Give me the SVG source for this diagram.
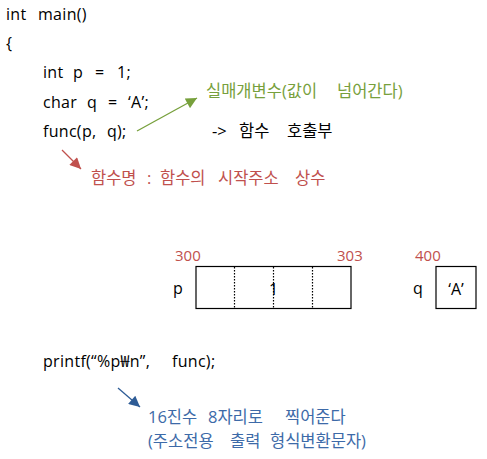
<svg xmlns="http://www.w3.org/2000/svg" width="487" height="459" viewBox="0 0 487 459">
<style>
text{font-family:"Open Sans","Noto Sans CJK KR",sans-serif;font-size:16px;fill:#000;white-space:pre}
.c{letter-spacing:0.3px}
.k{font-size:16.5px}
.g{fill:#77a03c}
.r{fill:#c0504d}
.b{fill:#3d6aa8}
.n{font-size:15px}
.box{fill:#fff;stroke:#000;stroke-width:1.2}
.dot{stroke:#000;stroke-width:1.2;stroke-dasharray:1.5 1.5}
</style>
<defs>
<marker id="ag" viewBox="0 0 10 10" refX="10" refY="5" markerWidth="13" markerHeight="11" markerUnits="userSpaceOnUse" orient="auto"><path d="M0,0L10,5L0,10z" fill="#77a03c"/></marker>
<marker id="ar" viewBox="0 0 10 10" refX="10" refY="5" markerWidth="13" markerHeight="11" markerUnits="userSpaceOnUse" orient="auto"><path d="M0,0L10,5L0,10z" fill="#c0504d"/></marker>
<marker id="ab" viewBox="0 0 10 10" refX="10" refY="5" markerWidth="13" markerHeight="11" markerUnits="userSpaceOnUse" orient="auto"><path d="M0,0L10,5L0,10z" fill="#2e5c96"/></marker>
</defs>
<rect width="487" height="459" fill="#fff"/>
<g id="code" class="c">
<text class="c" y="20"><tspan x="6">int</tspan> <tspan x="38">main()</tspan></text>
<text class="c" x="6" y="49">{</text>
<text class="c" y="78"><tspan x="43">int</tspan> <tspan x="73">p</tspan> <tspan x="95">=</tspan> <tspan x="117">1;</tspan></text>
<text class="c" y="108"><tspan x="43">char</tspan> <tspan x="87">q</tspan> <tspan x="108">=</tspan> <tspan x="128">‘A’;</tspan></text>
<text class="c" y="137"><tspan x="43">func(p,</tspan> <tspan x="107">q);</tspan></text>
<text class="c" y="367"><tspan x="43">printf(“%p₩n”,</tspan> <tspan x="172">func);</tspan></text>
</g>
<g id="note-actual-param"><text class="g k" y="97"><tspan x="206">실매개변수(값이</tspan> <tspan x="337">넘어간다)</tspan></text></g>
<g id="note-call"><text class="k" y="137"><tspan x="212">-&gt;</tspan> <tspan x="239">함수</tspan> <tspan x="287">호출부</tspan></text></g>
<g id="note-func-name"><text class="r k" y="184"><tspan x="91">함수명</tspan> <tspan x="147">:</tspan> <tspan x="160">함수의</tspan> <tspan x="218">시작주소</tspan> <tspan x="295">상수</tspan></text></g>
<g id="mem-p">
<text class="r n" x="175" y="261">300</text>
<text class="r n" x="337" y="261">303</text>
<text x="173" y="294">p</text>
<rect class="box" x="196" y="266.5" width="155" height="42"/>
<line class="dot" x1="234.5" y1="267" x2="234.5" y2="308"/>
<line class="dot" x1="273.5" y1="267" x2="273.5" y2="308"/>
<line class="dot" x1="312.5" y1="267" x2="312.5" y2="308"/>
<text x="273.5" y="295" text-anchor="middle">1</text>
</g>
<g id="mem-q">
<text class="r n" x="415" y="261">400</text>
<text x="413" y="294">q</text>
<rect class="box" x="436" y="266.5" width="40" height="42"/>
<text x="456" y="295" text-anchor="middle">‘A’</text>
</g>
<g id="note-printf">
<text class="b k" y="423"><tspan x="148">16진수</tspan> <tspan x="208">8자리로</tspan> <tspan x="285">찍어준다</tspan></text>
<text class="b k" y="447"><tspan x="148">(주소전용</tspan> <tspan x="230">출력</tspan> <tspan x="270">형식변환문자)</tspan></text>
</g>
<g id="connectors" fill="none" stroke-width="1.3">
<line x1="137" y1="131" x2="197" y2="98" stroke="#77a03c" marker-end="url(#ag)"/>
<line x1="62" y1="150" x2="81" y2="169" stroke="#c0504d" marker-end="url(#ar)"/>
<line x1="118" y1="388" x2="140" y2="407" stroke="#2e5c96" marker-end="url(#ab)"/>
</g>
</svg>
